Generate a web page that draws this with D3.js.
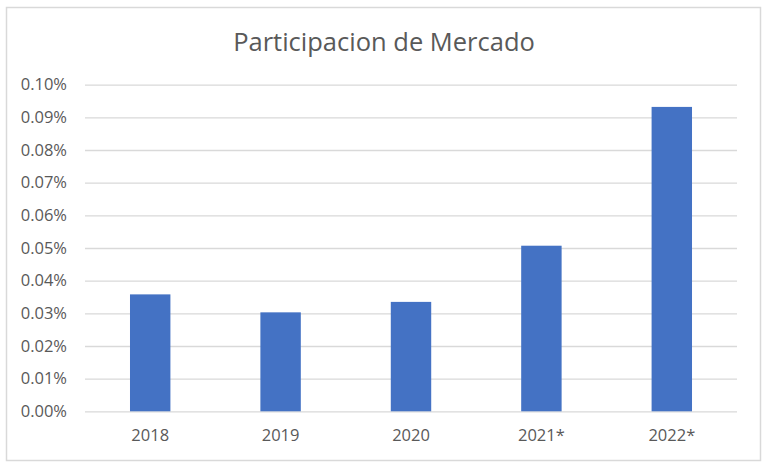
<!DOCTYPE html>
<html>
<head>
<meta charset="utf-8">
<script src="https://cdn.jsdelivr.net/npm/d3@7"></script>
<style>
  html, body { margin: 0; padding: 0; background: #fff; }
  svg { display: block; }
</style>
</head>
<body>
<svg id="chart" width="768" height="468"></svg>
<script>
const categories = ["2018", "2019", "2020", "2021*", "2022*"];
const values = [0.0358, 0.0303, 0.0335, 0.0507, 0.0932];
const yTicks = [0, 0.01, 0.02, 0.03, 0.04, 0.05, 0.06, 0.07, 0.08, 0.09, 0.10];
const titleText = "Participacion de Mercado";

(function () {
const svg = d3.select("#chart");
const font = "'Open Sans', sans-serif";
const textColor = "#595959";

// outer border
svg.append("rect")
  .attr("x", 6.5).attr("y", 7.5)
  .attr("width", 754).attr("height", 453)
  .attr("fill", "#fff").attr("stroke", "#d9d9d9").attr("stroke-width", 1.5);

const plotLeft = 85, plotRight = 737, plotTop = 84.7, plotBottom = 411.3;

const x = d3.scaleBand()
  .domain(categories)
  .range([plotLeft, plotRight])
  .paddingInner(0.69)
  .paddingOuter(0.345);

const y = d3.scaleLinear()
  .domain([0, 0.10])
  .range([plotBottom, plotTop]);

// gridlines
const yAxis = d3.axisLeft(y)
  .tickValues(yTicks)
  .tickSize(-(plotRight - plotLeft))
  .tickPadding(18)
  .tickFormat(d => d.toFixed(2) + "%");

const gy = svg.append("g")
  .attr("transform", `translate(${plotLeft},0)`)
  .call(yAxis);
gy.select(".domain").remove();
gy.selectAll(".tick line").attr("stroke", "#d9d9d9").attr("stroke-width", 1.3);
gy.selectAll(".tick text")
  .attr("fill", textColor)
  .style("font-family", font)
  .style("font-size", "16.5px");

// bars
svg.append("g").selectAll("rect")
  .data(values)
  .join("rect")
  .attr("x", (d, i) => x(categories[i]))
  .attr("width", x.bandwidth())
  .attr("y", d => y(d))
  .attr("height", d => y(0) - y(d))
  .attr("fill", "#4472c4");

// x axis
const xAxis = d3.axisBottom(x).tickSize(0).tickPadding(18);
const gx = svg.append("g")
  .attr("transform", `translate(0,${plotBottom})`)
  .call(xAxis);
gx.select(".domain").remove();
gx.selectAll(".tick text")
  .attr("fill", textColor)
  .style("font-family", font)
  .style("font-size", "16.5px");

// title
svg.append("text")
  .attr("x", 384)
  .attr("y", 51)
  .attr("text-anchor", "middle")
  .attr("fill", textColor)
  .style("font-family", font)
  .style("font-size", "25.5px")
  .text(titleText);
})();
</script>
</body>
</html>
